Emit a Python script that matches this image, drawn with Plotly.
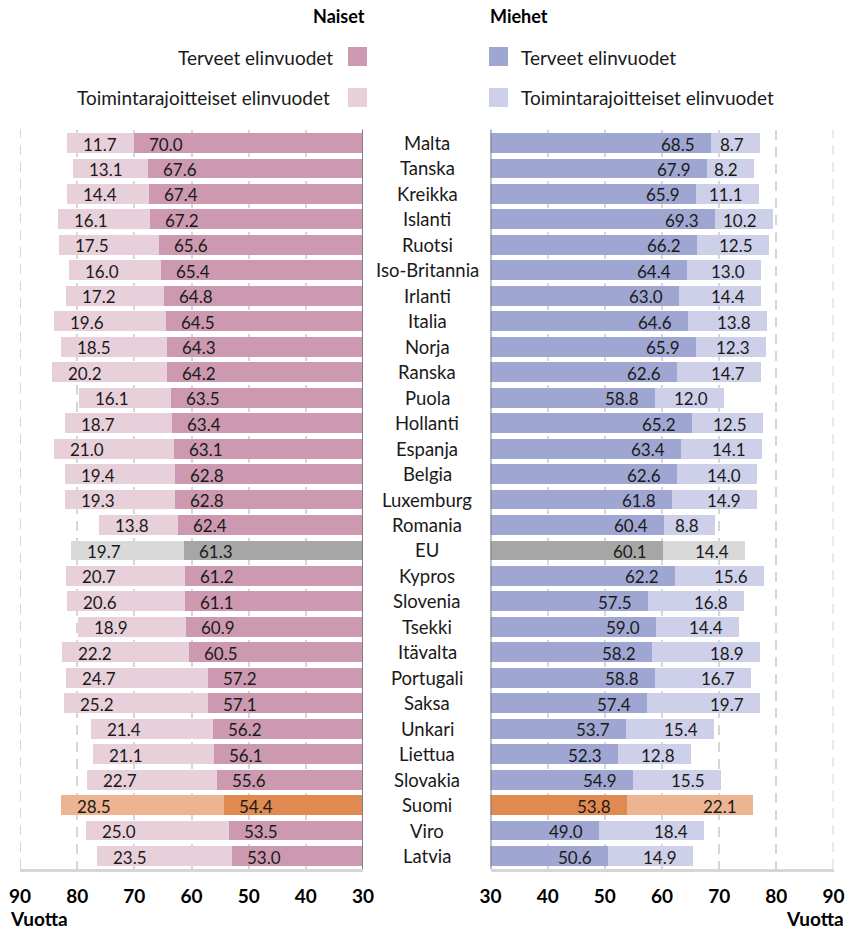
import plotly.graph_objects as go

# Healthy and activity-limited life years at age 0, by country
countries = ["Malta", "Tanska", "Kreikka", "Islanti", "Ruotsi", "Iso-Britannia", "Irlanti",
             "Italia", "Norja", "Ranska", "Puola", "Hollanti", "Espanja", "Belgia",
             "Luxemburg", "Romania", "EU", "Kypros", "Slovenia", "Tsekki", "Itävalta",
             "Portugali", "Saksa", "Unkari", "Liettua", "Slovakia", "Suomi", "Viro", "Latvia"]

women_healthy = [70.0, 67.6, 67.4, 67.2, 65.6, 65.4, 64.8, 64.5, 64.3, 64.2, 63.5, 63.4, 63.1,
                 62.8, 62.8, 62.4, 61.3, 61.2, 61.1, 60.9, 60.5, 57.2, 57.1, 56.2, 56.1, 55.6,
                 54.4, 53.5, 53.0]
women_limited = [11.7, 13.1, 14.4, 16.1, 17.5, 16.0, 17.2, 19.6, 18.5, 20.2, 16.1, 18.7, 21.0,
                 19.4, 19.3, 13.8, 19.7, 20.7, 20.6, 18.9, 22.2, 24.7, 25.2, 21.4, 21.1, 22.7,
                 28.5, 25.0, 23.5]
men_healthy = [68.5, 67.9, 65.9, 69.3, 66.2, 64.4, 63.0, 64.6, 65.9, 62.6, 58.8, 65.2, 63.4,
               62.6, 61.8, 60.4, 60.1, 62.2, 57.5, 59.0, 58.2, 58.8, 57.4, 53.7, 52.3, 54.9,
               53.8, 49.0, 50.6]
men_limited = [8.7, 8.2, 11.1, 10.2, 12.5, 13.0, 14.4, 13.8, 12.3, 14.7, 12.0, 12.5, 14.1,
               14.0, 14.9, 8.8, 14.4, 15.6, 16.8, 14.4, 18.9, 16.7, 19.7, 15.4, 12.8, 15.5,
               22.1, 18.4, 14.9]

tick_values = [90, 80, 70, 60, 50, 40, 30]

W_H, W_L = "#cc99b0", "#e8d0db"
M_H, M_L = "#a0a6d2", "#cdd0e8"
EU_H, EU_L = "#a6a6a6", "#d9d9d9"
FI_H, FI_L = "#e08950", "#ecb491"
GRID = "#d6d6d6"

FONT = "Lato"
TXT = "#1a1a1a"


def colours(base_h, base_l):
    h, l = [], []
    for c in countries:
        if c == "EU":
            h.append(EU_H); l.append(EU_L)
        elif c == "Suomi":
            h.append(FI_H); l.append(FI_L)
        else:
            h.append(base_h); l.append(base_l)
    return h, l


wh_c, wl_c = colours(W_H, W_L)
mh_c, ml_c = colours(M_H, M_L)

fig = go.Figure()
common = dict(orientation="h", y=countries, marker_line_width=0, showlegend=False,
              hoverinfo="skip")
fig.add_trace(go.Bar(x=women_healthy, marker_color=wh_c, xaxis="x", yaxis="y", **common))
fig.add_trace(go.Bar(x=women_limited, marker_color=wl_c, xaxis="x", yaxis="y", **common))
fig.add_trace(go.Bar(x=men_healthy, marker_color=mh_c, xaxis="x2", yaxis="y", **common))
fig.add_trace(go.Bar(x=men_limited, marker_color=ml_c, xaxis="x2", yaxis="y", **common))

W, H = 848, 929
plot_top, plot_bot = 129.5, 869.0
yd = [1 - plot_bot / H, 1 - plot_top / H]

xcommon = dict(
    tickvals=tick_values, showgrid=True, gridcolor=GRID, griddash="10px,7px", gridwidth=2,
    zeroline=False, showline=True, linecolor=GRID, linewidth=3,
    ticks="", ticklabelstandoff=8, automargin=False,
    tickfont=dict(family=FONT, size=19, color="#000000", weight="bold"),
    anchor="y", fixedrange=True,
)
fig.update_layout(
    width=W, height=H, margin=dict(l=0, r=0, t=0, b=0, autoexpand=False),
    paper_bgcolor="white", plot_bgcolor="white",
    barmode="stack", bargap=0.22,
    xaxis=dict(domain=[20 / W, 363 / W], range=[90, 30], **xcommon),
    xaxis2=dict(domain=[490.5 / W, 833.5 / W], range=[30, 90], **xcommon),
    yaxis=dict(domain=yd, autorange="reversed", showticklabels=False, showgrid=False,
               zeroline=False, showline=False, fixedrange=True, automargin=False),
    font=dict(family=FONT, color=TXT),
)

ann = []
lab_font = dict(family=FONT, size=17, color=TXT)
for c, wh, wl, mh, ml in zip(countries, women_healthy, women_limited, men_healthy, men_limited):
    ann.append(dict(x=wh, y=c, xref="x", yref="y", text=f"{wh:.1f}", showarrow=False,
                    xanchor="left", xshift=13, yshift=-1, font=lab_font))
    ann.append(dict(x=wh + wl, y=c, xref="x", yref="y", text=f"{wl:.1f}", showarrow=False,
                    xanchor="left", xshift=14, yshift=-1, font=lab_font))
    ann.append(dict(x=mh, y=c, xref="x2", yref="y", text=f"{mh:.1f}", showarrow=False,
                    xanchor="right", xshift=-14, yshift=-1, font=lab_font))
    ann.append(dict(x=mh + ml, y=c, xref="x2", yref="y", text=f"{ml:.1f}", showarrow=False,
                    xanchor="right", xshift=-14, yshift=-1, font=lab_font))
    ann.append(dict(x=427 / W, y=c, xref="paper", yref="y", text=c, showarrow=False,
                    xanchor="center", font=dict(family=FONT, size=18.5, color=TXT)))


def py(pix):
    return 1 - pix / H


bold = dict(family=FONT, size=19, color="#000000", weight="bold")
leg = dict(family=FONT, size=19, color=TXT)
ann += [
    dict(x=367 / W, y=py(16), xref="paper", yref="paper", text="Naiset", showarrow=False,
         xanchor="right", yanchor="middle", font=dict(bold, size=18)),
    dict(x=488 / W, y=py(16), xref="paper", yref="paper", text="Miehet", showarrow=False,
         xanchor="left", yanchor="middle", font=dict(bold, size=18)),
    dict(x=335 / W, y=py(57), xref="paper", yref="paper", text="Terveet elinvuodet",
         showarrow=False, xanchor="right", yanchor="middle", font=leg),
    dict(x=332 / W, y=py(97), xref="paper", yref="paper", text="Toimintarajoitteiset elinvuodet",
         showarrow=False, xanchor="right", yanchor="middle", font=leg),
    dict(x=519 / W, y=py(57), xref="paper", yref="paper", text="Terveet elinvuodet",
         showarrow=False, xanchor="left", yanchor="middle", font=leg),
    dict(x=519 / W, y=py(97), xref="paper", yref="paper", text="Toimintarajoitteiset elinvuodet",
         showarrow=False, xanchor="left", yanchor="middle", font=leg),
    dict(x=8 / W, y=py(918), xref="paper", yref="paper", text="Vuotta", showarrow=False,
         xanchor="left", yanchor="middle", font=bold),
    dict(x=846 / W, y=py(918), xref="paper", yref="paper", text="Vuotta", showarrow=False,
         xanchor="right", yanchor="middle", font=bold),
]

shapes = []
for (x0, y0, col) in [(348, 47, W_H), (348, 88, W_L), (489, 47, M_H), (489, 88, M_L)]:
    shapes.append(dict(type="rect", xref="paper", yref="paper", x0=x0 / W, x1=(x0 + 19) / W,
                       y0=py(y0 + 19), y1=py(y0), fillcolor=col, line_width=0))
# dashed gridline at the outer 90-year edge of each panel
for xr in ("x", "x2"):
    shapes.append(dict(type="line", xref=xr, yref="paper", x0=90, x1=90, y0=yd[0], y1=yd[1],
                       line=dict(color=GRID, width=2, dash="10px,7px"), layer="below"))
# dark baseline at 30 years on both panels
for xr in ("x", "x2"):
    shapes.append(dict(type="line", xref=xr, yref="paper", x0=30, x1=30, y0=yd[0], y1=yd[1],
                       line=dict(color="#7f7f7f", width=2), layer="above"))

fig.update_layout(annotations=ann, shapes=shapes)
fig.write_html("out.html")
